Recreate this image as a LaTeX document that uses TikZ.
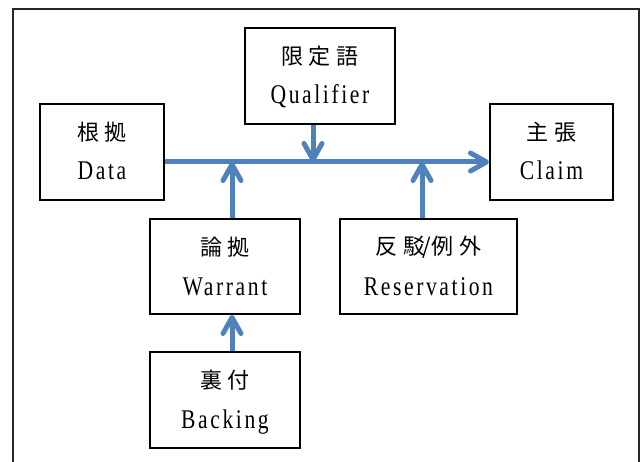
\documentclass[tikz,border=0pt]{standalone}
\usepackage{fontspec}
\setmainfont{Liberation Serif}
\newfontfamily\cjk{Noto Sans CJK JP}[LetterSpace=27]
\newfontfamily\cjktight{Noto Sans CJK JP}
\newfontfamily\latinlbl{Liberation Serif}[LetterSpace=12]
\usetikzlibrary{arrows.meta}

\definecolor{arrowblue}{RGB}{79,129,189}

\tikzset{
  box/.style={draw=black, line width=2pt, inner sep=0pt},
  arr/.style={draw=arrowblue, line width=5pt,
    -{Straight Barb[length=16pt,width=18pt,round]}},
  cjklbl/.style={inner sep=0pt, anchor=center, font=\fontsize{22pt}{24pt}\cjk},
  latlbl/.style={inner sep=0pt, anchor=base, font=\fontsize{27pt}{30pt}\latinlbl},
}

% two-line label of a box: Japanese term above, English term below
\newcommand\termlabels[3]{%
  \node[cjklbl] (#1-ja) at ([yshift=-29pt]#1.north) {#2};
  \node[latlbl] (#1-en) at ([yshift=-77pt]#1.north) {\scalebox{0.8}[1]{#3}};
}

\begin{document}
\begin{tikzpicture}[x=1pt, y=-1pt]
  \useasboundingbox (0,0) rectangle (642,462);
  \clip (0,0) rectangle (642,462);

  % outer frame (runs past the lower edge)
  \draw[line width=2pt, draw=black!85] (13,475) -- (13,9) -- (639,9) -- (639,475);

  % boxes
  \node[box, minimum width=124pt, minimum height=96pt] (data) at (102,152) {};
  \node[box, minimum width=150pt, minimum height=96pt] (qual) at (320,76) {};
  \node[box, minimum width=123pt, minimum height=96pt] (claim) at (551.5,152) {};
  \node[box, minimum width=150pt, minimum height=95pt] (warrant) at (225,266.5) {};
  \node[box, minimum width=177pt, minimum height=95pt] (reserv) at (428.5,266.5) {};
  \node[box, minimum width=150pt, minimum height=96pt] (backing) at (225,400) {};

  \termlabels{data}{根拠}{Data}
  \termlabels{qual}{限定語}{Qualifier}
  \termlabels{claim}{主張}{Claim}
  \termlabels{warrant}{論拠}{Warrant}
  \termlabels{reserv}{反駁\kern-3pt{\cjktight/}\kern1pt 例外}{Reservation}
  \termlabels{backing}{裏付}{Backing}

  % junctions on the main line
  \coordinate (main) at (0,162);
  \coordinate (jw) at (232,162);
  \coordinate (jq) at (313,162);
  \coordinate (jr) at (422,162);

  % connectors
  \draw[arr] (data.east |- main) -- (claim.west |- main);
  \draw[arr] (qual.south -| jq) -- (jq);
  \draw[arr] (warrant.north -| jw) -- (jw);
  \draw[arr] (reserv.north -| jr) -- (jr);
  \draw[arr] (backing.north -| jw) -- (warrant.south -| jw);
\end{tikzpicture}
\end{document}
